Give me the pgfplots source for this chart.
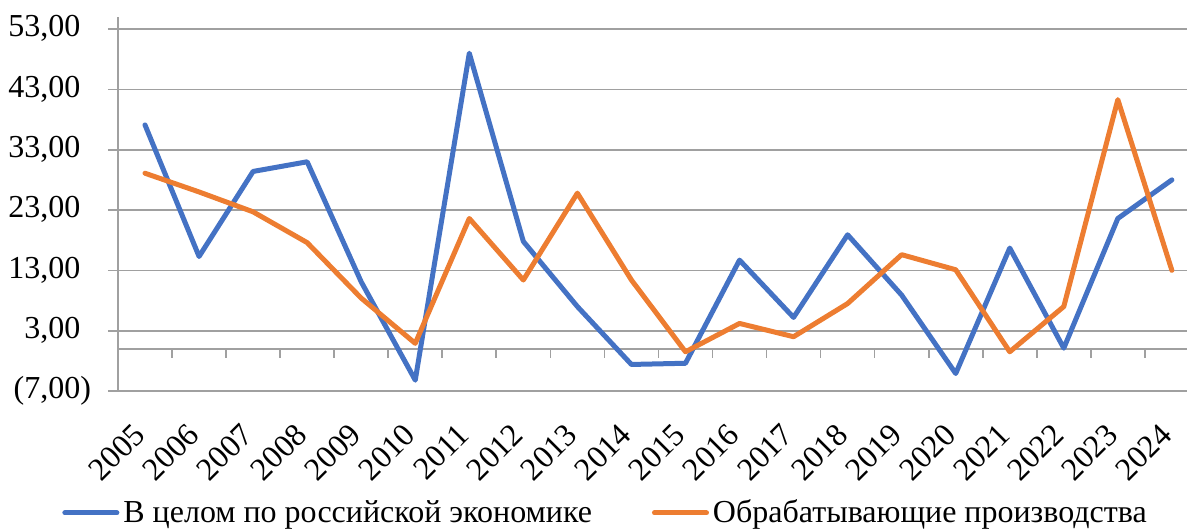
\documentclass[border=0pt]{standalone}
\usepackage{fontspec}
\setmainfont{Liberation Serif}
\usepackage{pgfplots}
\pgfplotsset{compat=1.18}
\definecolor{cblue}{RGB}{68,114,196}
\definecolor{corange}{RGB}{237,125,49}
\definecolor{gridc}{RGB}{160,160,160}
\begin{document}
\begin{tikzpicture}
\begin{axis}[
  scale only axis,
  width=534.5pt, height=187pt,
  xmin=-0.5, xmax=19.28,
  ymin=-7, ymax=55,
  axis y line*=left,
  axis x line*=bottom,
  x axis line style={draw=none},
  y axis line style={draw=gridc, line width=0.85pt},
  ytick={-7,3,13,23,33,43,53},
  yticklabels={{(7,00)},{3,00\phantom{)}},{13,00\phantom{)}},{23,00\phantom{)}},{33,00\phantom{)}},{43,00\phantom{)}},{53,00\phantom{)}}},
  xtick={0,...,19},
  xticklabels={2005,2006,2007,2008,2009,2010,2011,2012,2013,2014,2015,2016,2017,2018,2019,2020,2021,2022,2023,2024},
  xtick style={draw=none},
  ytick style={draw=gridc, line width=0.85pt},
  tick align=outside,
  major tick length=5pt,
  ymajorgrids,
  grid style={draw=gridc, line width=0.85pt},
  ticklabel style={font=\fontsize{16}{18}\selectfont},
  yticklabel style={xshift=-5pt},
  xticklabel style={rotate=45, anchor=east, yshift=-8pt, xshift=-8.5pt},
  legend columns=2,
  legend style={at={(0.457,-0.326)}, anchor=center, draw=none, fill=none,
    font=\fontsize{16}{18}\selectfont,
    /tikz/every even column/.append style={column sep=28pt}},
  legend image code/.code={\draw[#1, line width=2.5pt, line cap=round] (0pt,0pt) -- (26pt,0pt);},
]
\draw[gridc, line width=0.85pt] (axis cs:-0.5,0) -- (axis cs:19.28,0);
\pgfplotsinvokeforeach{0.5,1.5,2.5,3.5,4.5,5.5,6.5,7.5,8.5,9.5,10.5,11.5,12.5,13.5,14.5,15.5,16.5,17.5,18.5}{
  \draw[gridc, line width=0.85pt] (axis cs:#1,0) -- ++(0pt,-4.5pt);
}
\addplot[cblue, line width=2.5pt, line join=round, line cap=round] coordinates {
(0,37.1) (1,15.3) (2,29.4) (3,31.0) (4,11.1) (5,-5.2) (6,49.0) (7,17.8) (8,7.0) (9,-2.6)
(10,-2.4) (11,14.7) (12,5.2) (13,18.9) (14,8.9) (15,-4.1) (16,16.7) (17,0.1) (18,21.6) (19,28.0)};
\addlegendentry{В целом по российской экономике}
\addplot[corange, line width=2.5pt, line join=round, line cap=round] coordinates {
(0,29.1) (1,26.0) (2,22.7) (3,17.6) (4,8.4) (5,0.9) (6,21.6) (7,11.4) (8,25.8) (9,11.4)
(10,-0.5) (11,4.2) (12,2.0) (13,7.5) (14,15.6) (15,13.1) (16,-0.5) (17,7.0) (18,41.3) (19,13.0)};
\addlegendentry{Обрабатывающие производства}
\end{axis}
\pgfresetboundingbox
\path[use as bounding box] (-59pt,-69.5pt) rectangle (534.5pt,195.5pt);
\end{tikzpicture}
\end{document}
